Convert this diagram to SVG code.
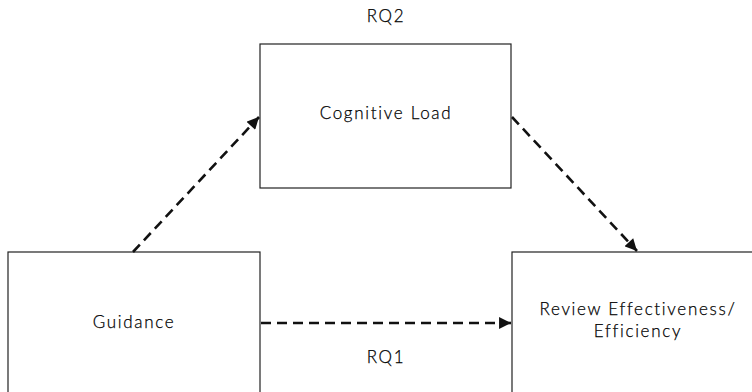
<svg xmlns="http://www.w3.org/2000/svg" width="752" height="392" viewBox="0 0 752 392">
<style>
.box{fill:#fff;stroke:#222;stroke-width:1.2}
.lbl{font-family:Lato,"Open Sans",sans-serif;font-size:17px;font-weight:300;fill:#000;stroke:#000;stroke-width:0.25;text-anchor:middle;letter-spacing:1.7px}
.con{stroke:#111;stroke-width:2.6;stroke-dasharray:10,6;fill:none}
</style>
<defs>
<marker id="ah" viewBox="0 0 10 10" refX="10" refY="5" markerWidth="4.8" markerHeight="4.6" orient="auto" markerUnits="strokeWidth">
<path d="M0,0 L10,5 L0,10 z" fill="#111"/>
</marker>
</defs>
<g id="cognitive-load">
<rect class="box" x="260" y="44" width="251" height="144"/>
<text class="lbl" x="386" y="119">Cognitive Load</text>
</g>
<g id="guidance">
<rect class="box" x="8" y="252" width="252" height="150"/>
<text class="lbl" x="134" y="328">Guidance</text>
</g>
<g id="review">
<rect class="box" x="512" y="252" width="250" height="150"/>
<text class="lbl" x="638" y="315">Review Effectiveness/</text>
<text class="lbl" x="638" y="337">Efficiency</text>
</g>
<g id="labels">
<text class="lbl" x="386" y="22">RQ2</text>
<text class="lbl" x="386" y="363">RQ1</text>
</g>
<g id="connectors">
<line class="con" x1="133" y1="252" x2="259" y2="117" marker-end="url(#ah)"/>
<line class="con" x1="512" y1="117" x2="637" y2="251" marker-end="url(#ah)"/>
<line class="con" x1="261" y1="323" x2="511" y2="323" marker-end="url(#ah)"/>
</g>
</svg>
